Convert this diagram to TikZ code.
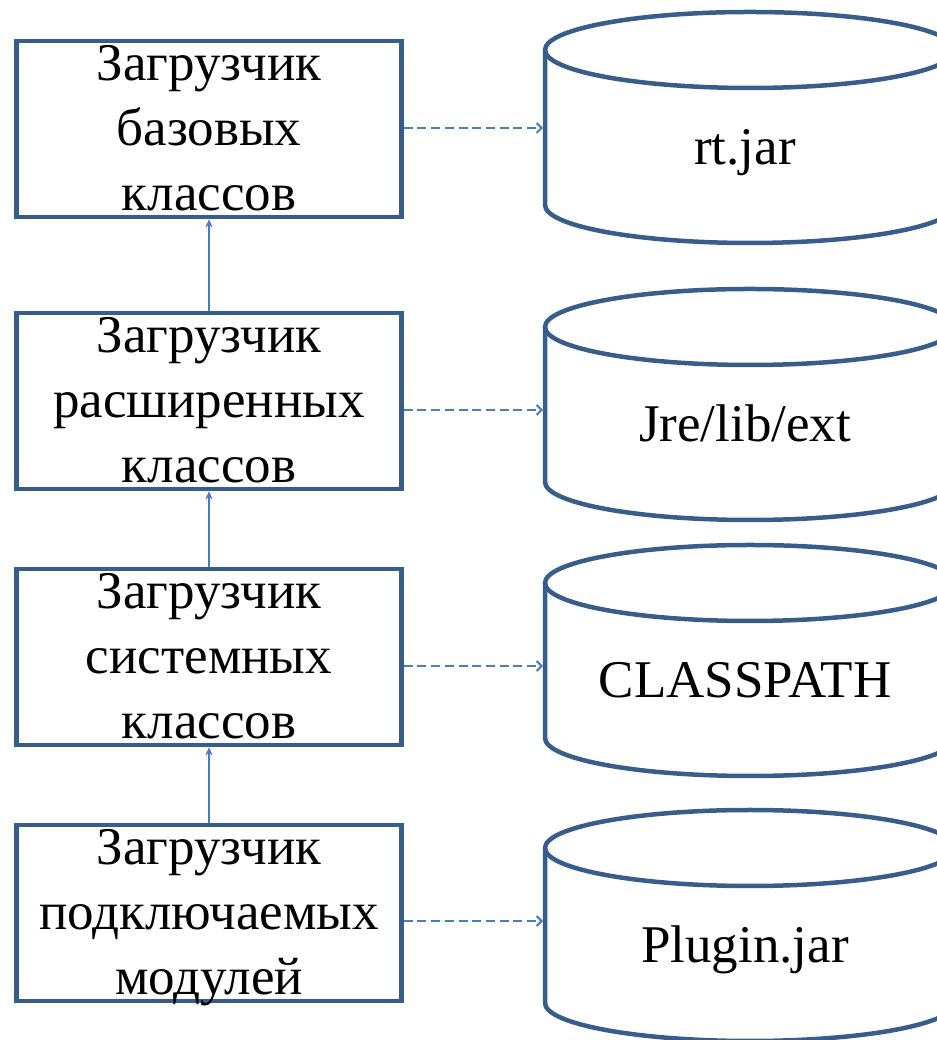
\documentclass[tikz,border=0pt]{standalone}
\usepackage{fontspec}
\setmainfont{Liberation Serif}
\usetikzlibrary{arrows.meta}
\definecolor{outline}{RGB}{56,93,138}
\definecolor{link}{RGB}{74,126,187}

\begin{document}
\begin{tikzpicture}[x=1pt,y=1pt,
  loader/.style={draw=outline, line width=4.5pt, minimum width=385pt,
    minimum height=176pt, inner sep=0pt},
  loadertext/.style={font=\fontsize{53}{65}\selectfont, align=center,
    inner sep=0pt, anchor=north},
  store/.style={draw=outline, line width=4.5pt},
  storetext/.style={font=\fontsize{53}{63}\selectfont, inner sep=0pt, anchor=base},
  feeds/.style={draw=link, line width=1.3pt,
    -{Stealth[length=8pt, width=7pt, inset=2pt]}},
  uses/.style={draw=link, line width=2pt, dash pattern=on 9pt off 4.7pt,
    -{Straight Barb[length=5pt, width=10pt]}}
]
\useasboundingbox (0,0) rectangle (936,1040);

% class loaders
\node[loader] (b1) at (209,911) {};
\node[loader] (b2) at (209,639) {};
\node[loader] (b3) at (209,383) {};
\node[loader] (b4) at (209,127) {};

\node[loadertext] (t1) at ([yshift=-6.5pt]b1.north) {Загрузчик\\базовых\\классов};
\node[loadertext] (t2) at ([yshift=-6.5pt]b2.north) {Загрузчик\\расширенных\\классов};
\node[loadertext] (t3) at ([yshift=-6.5pt]b3.north) {Загрузчик\\системных\\классов};
\node[loadertext] (t4) at ([yshift=-6.5pt]b4.north) {Загрузчик\\подключаемых\\модулей};

% class sources (drums)
\foreach \n/\top/\txt in {1/990/{rt.jar}, 2/713/{Jre/lib/ext}, 3/457/{CLASSPATH}, 4/192/{Plugin.jar}} {
  \draw[store] (545,\top) -- (545,\top-155)
     arc[start angle=180, end angle=360, x radius=205, y radius=38] -- (955,\top);
  \draw[store] (750,\top) ellipse[x radius=205, y radius=38];
  \node[storetext] (s\n) at (745,\top-115) {\txt};
}
\coordinate (c1) at (543,912);
\coordinate (c2) at (543,630);
\coordinate (c3) at (543,374);
\coordinate (c4) at (543,119);

% delegation chain
\draw[feeds] (b4) -- (b3);
\draw[feeds] (b3) -- (b2);
\draw[feeds] (b2) -- (b1);

% loaders and their sources
\draw[uses] (b1.east |- c1) -- (c1);
\draw[uses] (b2.east |- c2) -- (c2);
\draw[uses] (b3.east |- c3) -- (c3);
\draw[uses] (b4.east |- c4) -- (c4);
\end{tikzpicture}
\end{document}
